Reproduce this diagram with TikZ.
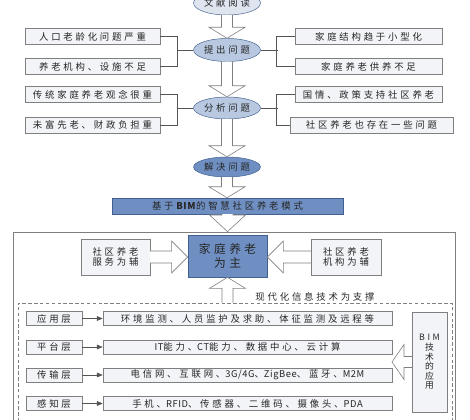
\documentclass[tikz,border=0pt]{standalone}
\usepackage{fontspec}
\setmainfont{Noto Sans CJK SC}[LetterSpace=30]
\usetikzlibrary{arrows.meta,positioning,calc,shapes.geometric}

\definecolor{boxfill}{HTML}{F2F4F7}
\definecolor{boxline}{HTML}{7F7F7F}
\definecolor{paleblue}{HTML}{DEE5EF}
\definecolor{lightblue}{HTML}{B8C8E0}
\definecolor{midblue}{HTML}{6F8FC2}
\definecolor{darkblue}{HTML}{41608F}
\definecolor{linkgray}{HTML}{555555}
\definecolor{inkgray}{HTML}{262626}

\newcommand\pxu{0.03cm}
\newcommand\lat[1]{{\addfontfeature{LetterSpace=6}#1}}
\newcommand\fatv[5]{%
  \filldraw[fat] let \p1=#1, \p2=#2, \p3=($(\x1,\y2)!#5!(\x1,\y1)$) in
    (\x1-#3,\y1) -- (\x1-#3,\y3) -- (\x1-#4,\y3) -- (\x1,\y2) -- (\x1+#4,\y3) -- (\x1+#3,\y3) -- (\x1+#3,\y1);}
\newcommand\fath[5]{%
  \filldraw[fat] let \p1=#1, \p2=#2, \p3=($(\x2,\y1)!#5!(\x1,\y1)$) in
    (\x1,\y1-#3) -- (\x3,\y1-#3) -- (\x3,\y1-#4) -- (\x2,\y1) -- (\x3,\y1+#4) -- (\x3,\y1+#3) -- (\x1,\y1+#3);}

\tikzset{
  sz/.style 2 args={minimum width={#1*\pxu},minimum height={#2*\pxu}},
  qbox/.style={draw=boxline,fill=boxfill,inner sep=0pt,text=inkgray,align=center,
               font=\fontsize{8}{9}\selectfont},
  stage/.style={ellipse,draw=darkblue,inner sep=0pt,text=inkgray,
                font=\fontsize{8}{9}\selectfont},
  link/.style={draw=linkgray,line width=0.5pt},
  fat/.style={draw=boxline,fill=white,line width=0.5pt},
}

\begin{document}
\begin{tikzpicture}[x=0.03cm,y=-0.03cm]
\useasboundingbox (0,0) rectangle (470,420);
\clip (0,0) rectangle (470,420);

\node[draw=boxline,line width=0.6pt,sz={442}{200}] (frame) at (234,332) {};
\node[draw=boxline,dashed,dash pattern=on 3pt off 2pt,line width=0.6pt,sz={434}{124}] (dash) at (235,365) {};

\begin{scope}[every node/.style={stage,sz={67}{22}}]
    \node[fill=paleblue,sz={67}{24}] (read) at (227,3) {文献阅读};
    \node[fill=lightblue,sz={67}{23}] (raise) at (227,50) {提出问题};
    \node[fill=lightblue] (analyse) at (227,108) {分析问题};
    \node[fill=midblue,sz={67}{20}] (solve) at (227,167) {解决问题};
\end{scope}

\begin{scope}[every node/.style={qbox,sz={135}{16}}]
    \node (aging) at (92.5,36.5) {人口老龄化问题严重};
    \node (lack) at (92.5,66.5) {养老机构、设施不足};
    \node (habit) at (92.5,94.5) {传统家庭养老观念很重};
    \node (poor) at (92.5,125) {未富先老、财政负担重};
    \node[sz={147}{16}] (small) at (368.5,36.5) {家庭结构趋于小型化};
    \node[sz={147}{16}] (short) at (368.5,66.5) {家庭养老供养不足};
    \node[sz={147}{16}] (policy) at (368.5,94.5) {国情、政策支持社区养老};
    \node[sz={163}{16}] (issue) at (371.5,125) {社区养老也存在一些问题};
\end{scope}

\draw[link] (aging.east) -- ++(17,0) |- (lack.east);
\draw[link] (raise.west) -- ++(-16,0);
\draw[link] (habit.east) -- ++(17,0) |- (poor.east);
\draw[link] (analyse.west) -- ++(-16,0);
\draw[link] (small.west) -- ++(-18,0) |- (short.west);
\draw[link] (raise.east) -- ++(17,0);
\draw[link] (policy.west) -- ++(-18,0) |- (issue.west);
\draw[link] (analyse.east) -- ++(17,0);

\node[qbox,fill=midblue,draw=darkblue,sz={231}{16}] (model) at (227.5,206) {基于\lat{\textbf{BIM}}的智慧社区养老模式};
\node[qbox,fill=midblue,draw=darkblue,line width=0.6pt,sz={79}{42},
      font=\fontsize{10}{12}\selectfont] (main) at (227.5,256) {家庭养老\\为主};
\node[qbox,sz={69}{36}] (serve) at (115.5,257) {社区养老\\服务为辅};
\node[qbox,sz={70}{36}] (inst) at (346,257) {社区养老\\机构为辅};
\node[text=inkgray,font=\fontsize{8}{9}\selectfont,inner sep=0pt] (support) at (315,297) {现代化信息技术为支撑};

\begin{scope}[every node/.style={qbox,sz={56}{14}}]
    \node (app) at (54,318.5) {应用层};
    \node (plat) at (54,347) {平台层};
    \node (trans) at (54,375) {传输层};
    \node (sense) at (54,403.5) {感知层};
\end{scope}
\begin{scope}[every node/.style={qbox,sz={289}{14}}]
    \node (appw) at (247.5,318.5) {环境监测、人员监护及求助、体征监测及远程等};
    \node (platw) at (247.5,347) {\lat{IT}能力、\lat{CT}能力、数据中心、云计算};
    \node (transw) at (247.5,375) {电信网、互联网、\lat{3G/4G}、\lat{ZigBee}、蓝牙、\lat{M2M}};
    \node (sensew) at (247.5,403.5) {手机、\lat{RFID}、传感器、二维码、摄像头、\lat{PDA}};
\end{scope}
\node[qbox,sz={35}{100},font=\fontsize{7.5}{8.2}\selectfont] (bim) at (429.5,362) {BIM\\技\\术\\的\\应\\用};
\coordinate (bimtip) at (392,362);

\begin{scope}[>={Triangle[length=5pt,width=4pt]}]
    \draw[link,->] (app.east) -- (appw.west);
    \draw[link,->] (plat.east) -- (platw.west);
    \draw[link,->] (trans.east) -- (transw.west);
    \draw[link,->] (sense.east) -- (sensew.west);
\end{scope}

\fatv{(read.south)}{(raise.north)}{0.165cm}{0.54cm}{0.33cm}
\fatv{(raise.south)}{(analyse.north)}{0.165cm}{0.54cm}{0.33cm}
\fatv{(analyse.south)}{(solve.north)}{0.165cm}{0.54cm}{0.33cm}
\fatv{(solve.south)}{(solve.south |- model.north)}{0.165cm}{0.54cm}{0.33cm}
\fatv{(model.south)}{(model.south |- frame.north)}{0.165cm}{0.54cm}{0.5cm}
\fatv{(main.south |- dash.north)}{(main.south)}{0.165cm}{0.54cm}{0.33cm}
\fath{(serve.east)}{(main.west)}{0.18cm}{0.48cm}{0.48cm}
\fath{(inst.west)}{(main.east)}{0.18cm}{0.48cm}{0.48cm}
\fath{(bim.west)}{(bimtip)}{0.165cm}{0.525cm}{0.36cm}
\end{tikzpicture}
\end{document}
